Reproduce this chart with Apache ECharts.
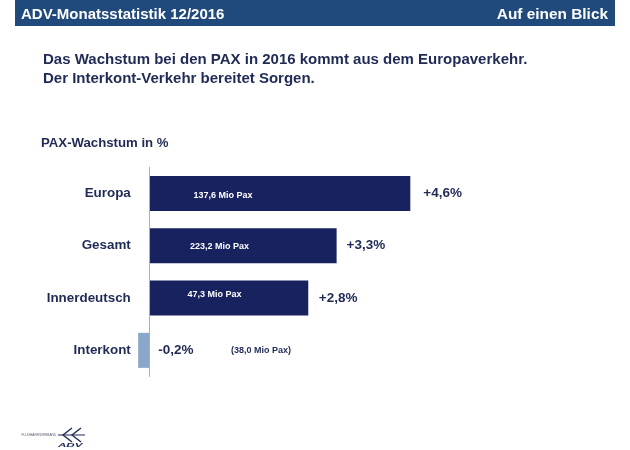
<!DOCTYPE html>
<html>
<head>
<meta charset="utf-8">
<style>
html,body{margin:0;padding:0;background:#fff}
#chart{width:630px;height:450px}
</style>
<script src="https://cdn.jsdelivr.net/npm/echarts@6/dist/echarts.min.js"></script>
</head>
<body>
<div id="chart"></div>
<script>
const categories = ['Europa', 'Gesamt', 'Innerdeutsch', 'Interkont'];
const growth = [4.6, 3.3, 2.8, -0.2];
const growthLabels = ['+4,6%', '+3,3%', '+2,8%', '-0,2%'];
const paxLabels = ['137,6 Mio Pax', '223,2 Mio Pax', '47,3 Mio Pax', '(38,0 Mio Pax)'];

const navy = '#17225e';
const dark = '#1f2a55';
const font = '"Liberation Sans", Arial, sans-serif';

// the small pax labels are placed by hand in the source slide
const paxOffset = [[39, 2.5], [35.5, 1], [33, -3.7], [76.5, 0]];
const growthDistance = [13, 10, 10.5];

const myChart = echarts.init(document.getElementById('chart'));

myChart.setOption({
  animation: false,
  backgroundColor: '#fff',
  grid: { left: 92.8, top: 167.3, width: 340.2, height: 209.2, outerBoundsMode: 'none' },
  xAxis: { type: 'value', min: -1, max: 5, show: false },
  yAxis: {
    type: 'category',
    data: categories,
    inverse: true,
    axisTick: { show: false },
    axisLine: { onZero: true, lineStyle: { color: '#a9adb5', width: 1 } },
    axisLabel: {
      margin: -38,
      color: dark,
      fontFamily: font,
      fontWeight: 'bold',
      fontSize: 13.4
    },
    z: 5
  },
  series: [
    {
      name: 'Wachstum',
      type: 'bar',
      barWidth: 35,
      data: growth.map((v, i) => ({
        value: v,
        itemStyle: { color: v < 0 ? '#8aa6c8' : navy },
        label: v < 0
          ? { position: 'insideLeft', offset: [15, 0] }
          : { position: 'right', distance: growthDistance[i] }
      })),
      label: {
        show: true,
        formatter: p => growthLabels[p.dataIndex],
        color: dark,
        fontFamily: font,
        fontWeight: 'bold',
        fontSize: 13.5
      }
    },
    {
      name: 'Pax',
      type: 'bar',
      barWidth: 35,
      barGap: '-100%',
      silent: true,
      itemStyle: { color: 'transparent' },
      data: growth.map((v, i) => ({
        value: Math.abs(v),
        label: {
          offset: paxOffset[i],
          color: v < 0 ? dark : '#fff'
        }
      })),
      label: {
        show: true,
        position: 'insideLeft',
        formatter: p => paxLabels[p.dataIndex],
        fontFamily: font,
        fontWeight: 'bold',
        fontSize: 9
      }
    }
  ],
  graphic: [
    { type: 'rect', shape: { x: 15, y: 0, width: 600, height: 26 }, style: { fill: '#20497c' } },
    { type: 'text', x: 21, y: 14.5, style: { text: 'ADV-Monatsstatistik 12/2016', fill: '#fff', font: 'bold 15px ' + font, textVerticalAlign: 'middle' } },
    { type: 'text', x: 608, y: 14.5, style: { text: 'Auf einen Blick', fill: '#fff', font: 'bold 15.4px ' + font, textAlign: 'right', textVerticalAlign: 'middle' } },
    { type: 'text', x: 43, y: 60, style: { text: 'Das Wachstum bei den PAX in 2016 kommt aus dem Europaverkehr.', fill: dark, font: 'bold 15px ' + font, textVerticalAlign: 'middle' } },
    { type: 'text', x: 43, y: 78.5, style: { text: 'Der Interkont-Verkehr bereitet Sorgen.', fill: dark, font: 'bold 15px ' + font, textVerticalAlign: 'middle' } },
    { type: 'text', x: 41, y: 143, style: { text: 'PAX-Wachstum in %', fill: dark, font: 'bold 13.2px ' + font, textVerticalAlign: 'middle' } },
    // logo
    { type: 'text', x: 21.5, y: 435, style: { text: 'FLUGHAFENVERBAND', fill: '#555a70', font: '3.2px ' + font, textVerticalAlign: 'middle' } },
    { type: 'polyline', shape: { points: [[72, 428], [63, 435], [72, 442]] }, style: { stroke: dark, fill: 'none', lineWidth: 1.4 } },
    { type: 'polyline', shape: { points: [[81, 428], [72, 435], [81, 442]] }, style: { stroke: dark, fill: 'none', lineWidth: 1.4 } },
    { type: 'line', shape: { x1: 58, y1: 435, x2: 85, y2: 435 }, style: { stroke: dark, lineWidth: 1 } },
    { type: 'text', x: 58, y: 442.5, scaleX: 2.1, style: { text: 'ADV', fill: dark, font: 'italic bold 5.5px ' + font } }
  ]
});
</script>
</body>
</html>
